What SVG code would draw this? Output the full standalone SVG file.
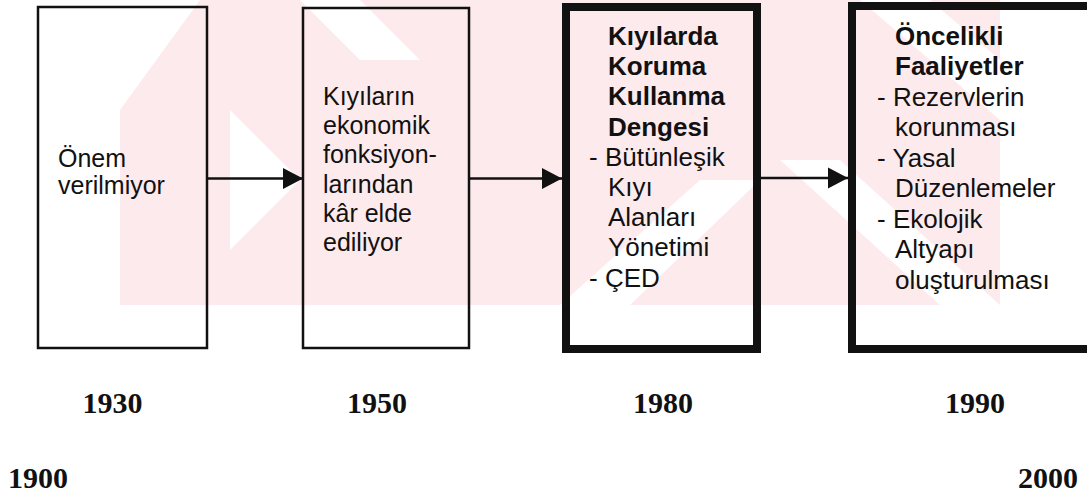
<svg xmlns="http://www.w3.org/2000/svg" width="1087" height="495" viewBox="0 0 1087 495">
  <defs>
    <style>
      .box { fill: none; stroke: #111; }
      .thin { stroke-width: 2.5; }
      .thick { stroke-width: 8; }
      .conn { stroke: #111; stroke-width: 2.5; fill: none; }
      .t { font-family: "Liberation Sans", Arial, sans-serif; fill: #111; }
      .b { font-weight: bold; }
      .yr { font-family: "Liberation Serif", "Times New Roman", serif; font-weight: bold; font-size: 30px; fill: #111; }
      .wm { fill: #fdeaed; }
      .wmw { fill: #ffffff; }
    </style>
    <marker id="arrow" markerUnits="userSpaceOnUse" markerWidth="21" markerHeight="22" refX="20" refY="11" orient="auto">
      <path d="M0,0.5 L20,11 L0,21.5 z" fill="#111"/>
    </marker>
    <clipPath id="wmclip"><rect x="120" y="0" width="880" height="305"/></clipPath>
  </defs>
  <rect width="1087" height="495" fill="#ffffff"/>
  <g id="watermark" clip-path="url(#wmclip)">
    <rect class="wm" x="120" y="0" width="880" height="305"/>
    <polygon class="wmw" points="120,0 200,0 120,110"/>
    <polygon class="wmw" points="300,0 360,0 420,60 360,60"/>
    <polygon class="wmw" points="230,110 300,180 230,250"/>
    <polygon class="wmw" points="560,305 630,305 760,180 700,180"/>
    <polygon class="wmw" points="780,160 840,160 1000,305 940,305"/>
    <polygon class="wmw" points="860,0 930,0 1000,60 1000,120"/>
  </g>
  <g id="connectors">
    <line class="conn" x1="207" y1="178.5" x2="303" y2="178.5" marker-end="url(#arrow)"/>
    <line class="conn" x1="469" y1="178.5" x2="562" y2="178.5" marker-end="url(#arrow)"/>
    <line class="conn" x1="761" y1="178" x2="848" y2="178" marker-end="url(#arrow)"/>
  </g>
  <g id="node-1930">
    <rect class="box thin" x="38" y="7" width="169" height="341"/>
    <text class="t" font-size="25" x="58" y="167">Önem</text>
    <text class="t" font-size="25" x="58" y="194">verilmiyor</text>
  </g>
  <g id="node-1950">
    <rect class="box thin" x="303" y="8" width="166" height="340"/>
    <g class="t" font-size="25">
      <text x="323" y="105">Kıyıların</text>
      <text x="323" y="134">ekonomik</text>
      <text x="323" y="163">fonksiyon-</text>
      <text x="323" y="193">larından</text>
      <text x="323" y="222">kâr elde</text>
      <text x="323" y="251">ediliyor</text>
    </g>
  </g>
  <g id="node-1980">
    <rect class="box thick" x="566" y="7" width="191" height="342"/>
    <g class="t" font-size="26">
      <text class="b" x="608" y="45">Kıyılarda</text>
      <text class="b" x="608" y="75">Koruma</text>
      <text class="b" x="608" y="105">Kullanma</text>
      <text class="b" x="608" y="136">Dengesi</text>
      <text x="589" y="166">- Bütünleşik</text>
      <text x="608" y="196">Kıyı</text>
      <text x="608" y="226">Alanları</text>
      <text x="608" y="256">Yönetimi</text>
      <text x="589" y="287">- ÇED</text>
    </g>
  </g>
  <g id="node-1990">
    <rect class="box thick" x="852" y="6" width="250" height="343"/>
    <g class="t" font-size="26">
      <text class="b" x="895" y="45">Öncelikli</text>
      <text class="b" x="895" y="75">Faaliyetler</text>
      <text x="877" y="106">- Rezervlerin</text>
      <text x="895" y="136">korunması</text>
      <text x="877" y="167">- Yasal</text>
      <text x="895" y="197">Düzenlemeler</text>
      <text x="877" y="228">- Ekolojik</text>
      <text x="895" y="258">Altyapı</text>
      <text x="895" y="289">oluşturulması</text>
    </g>
  </g>
  <g id="years">
    <text class="yr" x="112.5" y="413" text-anchor="middle">1930</text>
    <text class="yr" x="377" y="413" text-anchor="middle">1950</text>
    <text class="yr" x="663" y="413" text-anchor="middle">1980</text>
    <text class="yr" x="975" y="413" text-anchor="middle">1990</text>
    <text class="yr" x="8" y="488">1900</text>
    <text class="yr" x="1078" y="488" text-anchor="end">2000</text>
  </g>
</svg>
